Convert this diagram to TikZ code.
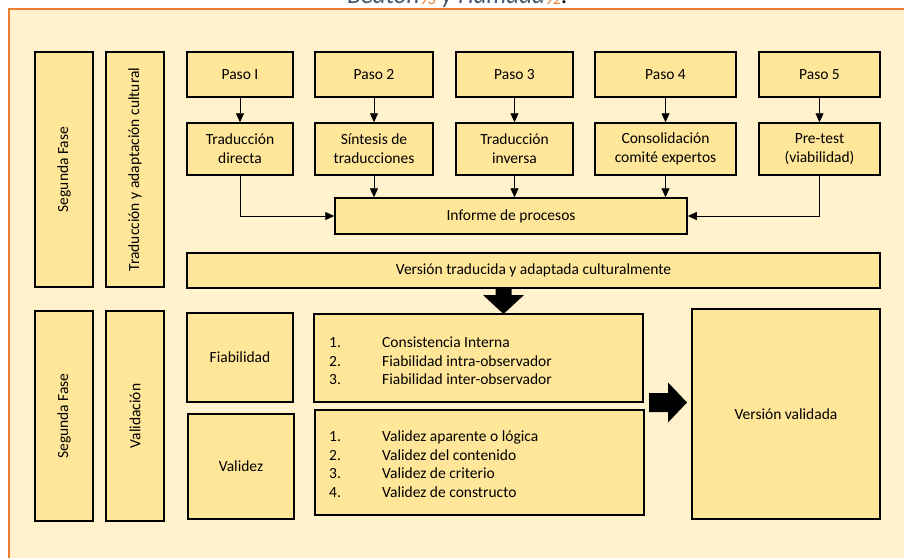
\documentclass[tikz,border=0pt]{standalone}
\usepackage{fontspec}
\setmainfont{Carlito}
\usetikzlibrary{arrows.meta}
\definecolor{bgcream}{HTML}{FFF2CC}
\definecolor{boxgold}{HTML}{FFE699}
\definecolor{edgeorange}{HTML}{ED7D31}
\definecolor{slate}{HTML}{44546A}
\begin{document}
\begin{tikzpicture}[x=1pt,y=-1pt,
  box/.style={draw=black, line width=1.5pt, fill=boxgold, inner sep=2pt, align=center,
    font=\fontsize{15.5}{19}\selectfont},
  listtxt/.style={inner sep=0pt, anchor=west, font=\fontsize{15.5}{18.5}\selectfont},
  link/.style={line width=0.8pt, -{Triangle[length=9pt,width=8pt]}},
  bigarrow/.style={fill=black}
]
\useasboundingbox (0,0) rectangle (904,558);
\fill[white] (0,0) rectangle (904,558);
\fill[bgcream] (9,9) rectangle (904,558);
\draw[edgeorange, line width=1.6pt] (9,558) -- (9,9) -- (904,9);

% cut-off caption at the top
\node[anchor=base, inner sep=0pt, text=slate, font=\fontsize{25}{30}\selectfont\itshape] (cap) at (457.5,3)
  {Beaton\textcolor{edgeorange}{\raisebox{-1.5pt}{\fontsize{16}{16}\selectfont 93}} y Hamada\textcolor{edgeorange}{\raisebox{-1.5pt}{\fontsize{16}{16}\selectfont 92}}\textcolor{black}{.}};

% upper block
\node[box, rotate=90, minimum width=235pt, minimum height=58pt] (sfa) at (64,169.5) {Segunda Fase};
\node[box, rotate=90, minimum width=235pt, minimum height=58pt] (tac) at (135,169.5) {Traducción y adaptación cultural};

\node[box, minimum width=106pt, minimum height=45pt] (p1) at (240,74.5) {Paso I};
\node[box, minimum width=118pt, minimum height=45pt] (p2) at (374,74.5) {Paso 2};
\node[box, minimum width=117pt, minimum height=45pt] (p3) at (514.5,74.5) {Paso 3};
\node[box, minimum width=141pt, minimum height=45pt] (p4) at (665.5,74.5) {Paso 4};
\node[box, minimum width=121pt, minimum height=45pt] (p5) at (819.5,74.5) {Paso 5};

\node[box, minimum width=106pt, minimum height=52pt] (t1) at (240,149) {Traducción\\directa};
\node[box, minimum width=118pt, minimum height=52pt] (t2) at (374,149) {Síntesis de\\traducciones};
\node[box, minimum width=117pt, minimum height=52pt] (t3) at (514.5,149) {Traducción\\inversa};
\node[box, minimum width=141pt, minimum height=52pt] (t4) at (665.5,149) {Consolidación\\comité expertos};
\node[box, minimum width=121pt, minimum height=52pt] (t5) at (819.5,149) {Pre-test\\(viabilidad)};

\node[box, minimum width=352pt, minimum height=36pt] (inf) at (511,216) {Informe de procesos};
\node[box, minimum width=693pt, minimum height=35pt] (ver) at (533.5,270.5) {Versión traducida y adaptada culturalmente};

\draw[link] (p1) -- (t1);
\draw[link] (p2) -- (t2);
\draw[link] (p3) -- (t3);
\draw[link] (p4) -- (t4);
\draw[link] (p5) -- (t5);
\draw[link] (t1.south) |- (inf.west);
\draw[link] (t5.south) |- (inf.east);
\draw[link] (t2.south) -- (t2.south |- inf.north);
\draw[link] (t3.south) -- (t3.south |- inf.north);
\draw[link] (t4.south) -- (t4.south |- inf.north);

% lower block
\node[box, rotate=90, minimum width=210pt, minimum height=58pt] (sfb) at (64,416) {Segunda Fase};
\node[box, rotate=90, minimum width=210pt, minimum height=58pt] (val) at (135,416) {Validación};

\node[box, minimum width=106pt, minimum height=89pt] (fia) at (240,357.5) {Fiabilidad};
\node[box, minimum width=106pt, minimum height=105pt] (vdz) at (241,466.5) {Validez};

\node[box, minimum width=329pt, minimum height=88pt] (l1) at (478.5,358) {};
\node[box, minimum width=329pt, minimum height=105pt] (l2) at (479.5,462.5) {};
\node[listtxt] (l1t) at (329,362.5) {\begin{tabular}{@{}p{53pt}@{}l@{}}1.&Consistencia Interna\\2.&Fiabilidad intra-observador\\3.&Fiabilidad inter-observador\end{tabular}};
\node[listtxt] (l2t) at (329,466) {\begin{tabular}{@{}p{53pt}@{}l@{}}1.&Validez aparente o lógica\\2.&Validez del contenido\\3.&Validez de criterio\\4.&Validez de constructo\end{tabular}};

\node[box, minimum width=188pt, minimum height=210pt] (vv) at (786,414) {Versión validada};

% block arrows
\coordinate (dtop) at (503.5,288);
\coordinate (dtip) at (503.5,314);
\fill[bigarrow] (dtop) ++(-8,0) -- ++(0,7) -- ++(-12.5,0) -- (dtip) -- ++(20.5,-19) -- ++(-12.5,0) -- ++(0,-7) -- cycle;
\coordinate (rtail) at (649,402.5);
\coordinate (rtip) at (687,402.5);
\fill[bigarrow] (rtail) ++(0,-9.5) -- ++(19,0) -- ++(0,-10.5) -- (rtip) -- ++(-19,20) -- ++(0,-10.5) -- ++(-19,0) -- cycle;
\end{tikzpicture}
\end{document}
